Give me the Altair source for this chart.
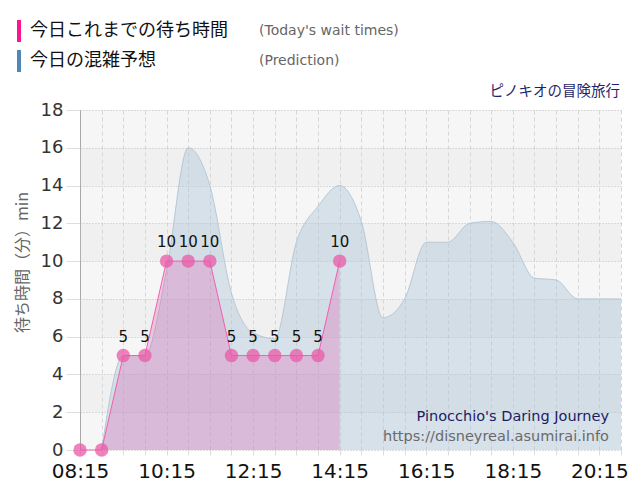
import altair as alt
import pandas as pd

# ---- data ----
actual_times = ["08:15", "08:45", "09:15", "09:45", "10:15", "10:45", "11:15",
                "11:45", "12:15", "12:45", "13:15", "13:45", "14:15"]
actual_waits = [0, 0, 5, 5, 10, 10, 10, 5, 5, 5, 5, 5, 10]

pred_times = ["08:45", "09:15", "09:45", "10:15", "10:45", "11:15", "11:45",
              "12:15", "12:45", "13:15", "13:45", "14:15", "14:45", "15:15",
              "15:45", "16:15", "16:45", "17:15", "17:45", "18:15", "18:45",
              "19:15", "19:45", "20:15", "20:45"]
pred_waits = [0, 5, 5, 9.5, 16, 14, 8.3, 6.2, 5.9, 11, 12.9, 14, 12.1, 7,
              8, 11, 11, 12, 12.1, 11, 9.1, 9, 8, 8, 8]

band_starts = [2, 6, 10, 14]
y_ticks = [0, 2, 4, 6, 8, 10, 12, 14, 16, 18]

legend_jp = ["今日これまでの待ち時間", "今日の混雑予想"]
legend_en = ["(Today's wait times)", "(Prediction)"]
title_jp = "ピノキオの冒険旅行"
title_en = "Pinocchio's Daring Journey"
site_url = "https://disneyreal.asumirai.info"
y_title = "待ち時間（分）min"


def to_min(t):
    h, m = t.split(":")
    return int(h) * 60 + int(m)


actual = pd.DataFrame({
    "t": [to_min(t) for t in actual_times],
    "wait": actual_waits,
    "label": [str(v) if v > 0 else "" for v in actual_waits],
})
pred = pd.DataFrame({"t": [to_min(t) for t in pred_times], "wait": pred_waits})
bands = pd.DataFrame({"y": band_starts, "y2": [b + 2 for b in band_starts]})

X0, X1 = to_min("08:15"), to_min("20:45")
grid_vals = list(range(X0, X1 + 1, 30))
W, H = 541, 340

JP = "Noto Sans CJK JP"
LAT = "DejaVu Sans"

xscale = alt.Scale(domain=[X0, X1], nice=False, zero=False)
yscale = alt.Scale(domain=[0, 18], nice=False)

label_expr = ("(datum.value - %d) %% 120 == 0 ? "
              "pad('' + floor(datum.value / 60), 2, '0', 'left') + ':' + "
              "pad('' + (datum.value %% 60), 2, '0', 'left') : ''" % X0)

xaxis = alt.Axis(values=grid_vals, labelExpr=label_expr, title=None)
yaxis = alt.Axis(values=y_ticks, title=y_title)

Y = lambda f: alt.Y(f, scale=yscale, axis=yaxis)
X = lambda f: alt.X(f, scale=xscale, axis=xaxis)

band_layer = alt.Chart(bands).mark_rect(color="#d8d8d8", opacity=0.18).encode(
    x=alt.value(0), x2=alt.value(W), y=Y("y:Q"), y2="y2:Q")

pred_area = alt.Chart(pred).mark_area(
    interpolate="monotone", color="#a9c3d8", opacity=0.42).encode(
    x=X("t:Q"), y=Y("wait:Q"))
pred_line = alt.Chart(pred).mark_line(
    interpolate="monotone", color="#b8c8d4", strokeWidth=1).encode(
    x=X("t:Q"), y=Y("wait:Q"))

act_area = alt.Chart(actual).mark_area(color="#e060b0", opacity=0.3).encode(
    x=X("t:Q"), y=Y("wait:Q"))
act_line = alt.Chart(actual).mark_line(color="#f060b0", strokeWidth=1).encode(
    x=X("t:Q"), y=Y("wait:Q"))
act_pts = alt.Chart(actual).mark_circle(
    color="#ea5aa8", opacity=0.75, size=180).encode(
    x=X("t:Q"), y=Y("wait:Q"))
act_lbl = alt.Chart(actual).mark_text(
    dy=-19, fontSize=15, font=LAT, color="#111111").encode(
    x=X("t:Q"), y=Y("wait:Q"), text="label:N")


def txt(s, x, y, size, color, font, align="left"):
    return alt.Chart(pd.DataFrame({"s": [s]})).mark_text(
        align=align, baseline="middle", fontSize=size, font=font,
        color=color).encode(x=alt.value(x), y=alt.value(y), text="s:N")


def swatch(color, x, x2, y, y2):
    return alt.Chart(pd.DataFrame({"s": [0]})).mark_rect(color=color).encode(
        x=alt.value(x), x2=alt.value(x2), y=alt.value(y), y2=alt.value(y2))


decor = [
    swatch("#ff1493", -63, -59, -90, -68),
    swatch("#4f88b8", -63, -59, -60, -38),
    txt(legend_jp[0], -50, -79, 18, "#111111", JP),
    txt(legend_jp[1], -50, -49, 18, "#111111", JP),
    txt(legend_en[0], 179, -79, 14, "#666666", LAT),
    txt(legend_en[1], 179, -49, 14, "#666666", LAT),
    txt(title_jp, 540, -18, 14.5, "#1f1f6b", JP, "right"),
    txt(title_en, 529, 307, 14.5, "#1c1c64", LAT, "right"),
    txt(site_url, 529, 327, 14.5, "#6a6a6a", LAT, "right"),
]

chart = alt.layer(
    band_layer, pred_area, pred_line, act_area, act_line, act_pts, act_lbl,
    *decor
).properties(
    width=W, height=H,
    autosize=alt.AutoSizeParams(type="none"),
    padding={"left": 72, "top": 102, "right": 11, "bottom": 40},
).configure_view(
    fill="#f6f6f6", stroke=None
).configure_axisX(
    grid=True, gridDash=[4, 3], gridColor="#d6d6d6", domain=False,
    ticks=True, tickColor="#dddddd", tickSize=5,
    labelFontSize=20, labelColor="#111111", labelFont=LAT,
    labelPadding=6, labelOverlap=False, labelFlush=False,
).configure_axisY(
    tickCount=10, grid=True, gridDash=[1, 2], gridColor="#bdbdbd",
    domainColor="#a8a8a8", tickColor="#dddddd", tickSize=14,
    labelFontSize=18, labelColor="#333333", labelFont=LAT, labelPadding=3,
    labelOverlap=False, labelBound=False, labelFlush=False,
    titleFont=JP, titleFontSize=16, titleFontWeight="normal",
    titleColor="#666666", titleX=-58, titleY=152, titleBaseline="middle",
)

chart.save("out.html", embed_options={"renderer": "svg", "actions": False})
